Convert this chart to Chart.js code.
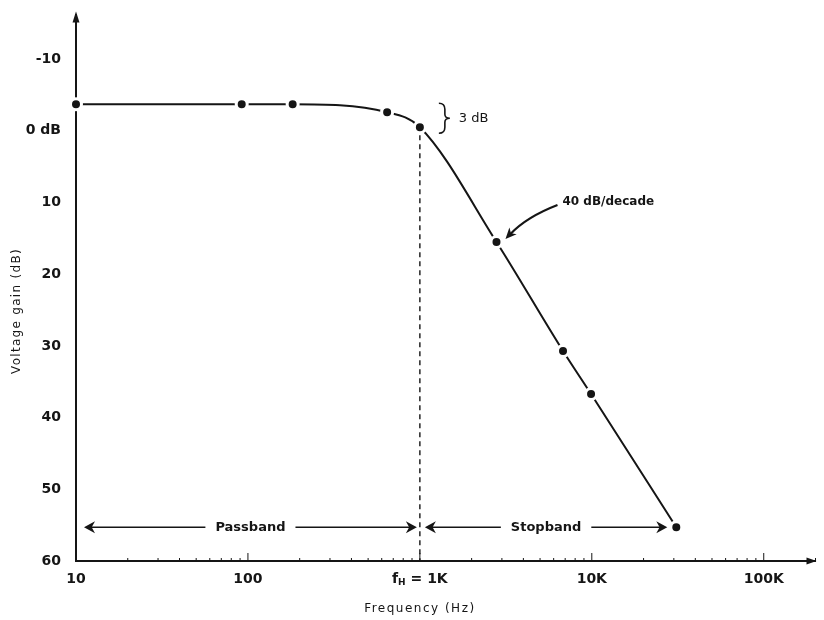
<!DOCTYPE html>
<html>
<head>
<meta charset="utf-8">
<script src="https://cdn.jsdelivr.net/npm/chart.js@4.4.0/dist/chart.umd.min.js"></script>
<style>
  html, body { margin: 0; padding: 0; background: #fff; }
  #wrap { position: relative; width: 824px; height: 620px; }
</style>
</head>
<body>
<div id="wrap"><canvas id="chartBode"></canvas></div>
<script>
// Datos (respuesta de un filtro pasa-bajos)
const freqHz = [10, 92, 182, 645, 1000, 2790, 6800, 9900, 31000];
const gainDb = [-3.7, -3.7, -3.7, -2.6, -0.5, 15.5, 30.7, 36.7, 55.3];

const freqTicks = [10, 100, 1000, 10000, 100000];
const freqTickLabels = ['10', '100', '', '10K', '100K'];
const gainTicks = [-10, 0, 10, 20, 30, 40, 50, 60];
const gainTickLabels = ['-10', '0 dB', '10', '20', '30', '40', '50', '60'];

const cutoffHz = 1000;
const bandArrowDb = 55.3;

const INK = '#151515';

function arrowHead(ctx, x, y, dir, size) {
  // dir: 1 = derecha, -1 = izquierda
  ctx.beginPath();
  ctx.moveTo(x, y);
  ctx.lineTo(x - dir * size, y - size * 0.55);
  ctx.lineTo(x - dir * size * 0.7, y);
  ctx.lineTo(x - dir * size, y + size * 0.55);
  ctx.closePath();
  ctx.fill();
}

function bandArrow(ctx, x1, x2, y, label) {
  ctx.font = 'bold 13px "DejaVu Sans"';
  const w = ctx.measureText(label).width;
  const mid = (x1 + x2) / 2;
  ctx.lineWidth = 1.6;
  ctx.beginPath();
  ctx.moveTo(x1 + 4, y);
  ctx.lineTo(mid - w / 2 - 10, y);
  ctx.moveTo(mid + w / 2 + 10, y);
  ctx.lineTo(x2 - 4, y);
  ctx.stroke();
  arrowHead(ctx, x1, y, -1, 11);
  arrowHead(ctx, x2, y, 1, 11);
  ctx.textAlign = 'center';
  ctx.textBaseline = 'middle';
  ctx.fillText(label, mid, y);
}

const bodeDecor = {
  id: 'bodeDecor',
  beforeDatasetsDraw(chart) {
    const ctx = chart.ctx;
    const xs = chart.scales.x;
    const ys = chart.scales.y;
    const area = chart.chartArea;
    const cIdx = freqHz.indexOf(cutoffHz);
    const xc = xs.getPixelForValue(cutoffHz);
    const yc = ys.getPixelForValue(gainDb[cIdx]);

    ctx.save();
    ctx.strokeStyle = INK;
    ctx.fillStyle = INK;

    // linea punteada en la frecuencia de corte
    ctx.lineWidth = 1.4;
    ctx.setLineDash([5, 4]);
    ctx.beginPath();
    ctx.moveTo(xc, yc + 8);
    ctx.lineTo(xc, area.bottom);
    ctx.stroke();
    ctx.setLineDash([]);

    // marcas menores del eje x (logaritmico)
    ctx.lineWidth = 1;
    for (let d = 10; d <= 100000; d *= 10) {
      for (let k = 1; k <= 9; k++) {
        const v = d * k;
        if (v > xs.max || v <= xs.min) continue;
        const px = xs.getPixelForValue(v);
        const len = k === 1 ? 8 : 3;
        ctx.beginPath();
        ctx.moveTo(px, area.bottom);
        ctx.lineTo(px, area.bottom - len);
        ctx.stroke();
      }
    }

    // flechas de banda de paso / banda de rechazo
    const yb = ys.getPixelForValue(bandArrowDb);
    const xLast = xs.getPixelForValue(freqHz[freqHz.length - 1]);
    bandArrow(ctx, xs.getPixelForValue(10) + 8, xc - 3, yb, 'Passband');
    bandArrow(ctx, xc + 5, xLast - 9, yb, 'Stopband');

    // llave de 3 dB
    const bx = xc + 19;
    const yTop = ys.getPixelForValue(gainDb[0]) - 1;
    const yBot = yc + 6;
    const ym = (yTop + yBot) / 2;
    ctx.lineWidth = 1.6;
    ctx.beginPath();
    ctx.moveTo(bx, yTop);
    ctx.quadraticCurveTo(bx + 6, yTop, bx + 6, yTop + 6);
    ctx.lineTo(bx + 6, ym - 4);
    ctx.quadraticCurveTo(bx + 6, ym, bx + 11, ym);
    ctx.quadraticCurveTo(bx + 6, ym, bx + 6, ym + 4);
    ctx.lineTo(bx + 6, yBot - 6);
    ctx.quadraticCurveTo(bx + 6, yBot, bx, yBot);
    ctx.stroke();
    ctx.font = '13px "DejaVu Sans"';
    ctx.textAlign = 'left';
    ctx.textBaseline = 'middle';
    ctx.fillText('3 dB', bx + 20, ym);

    // pendiente 40 dB/decada
    const i40 = 5;
    const px40 = xs.getPixelForValue(freqHz[i40]);
    const py40 = ys.getPixelForValue(gainDb[i40]);
    ctx.lineWidth = 2.2;
    ctx.beginPath();
    ctx.moveTo(px40 + 61, py40 - 37);
    ctx.quadraticCurveTo(px40 + 30, py40 - 25, px40 + 14, py40 - 8);
    ctx.stroke();
    ctx.save();
    ctx.translate(px40 + 9, py40 - 3);
    ctx.rotate(Math.atan2(17, -16));
    ctx.beginPath();
    ctx.moveTo(0, 0);
    ctx.lineTo(-11, -5);
    ctx.lineTo(-8, 0);
    ctx.lineTo(-11, 5);
    ctx.closePath();
    ctx.fill();
    ctx.restore();
    ctx.font = 'bold 12px "DejaVu Sans"';
    ctx.textAlign = 'left';
    ctx.textBaseline = 'middle';
    ctx.fillText('40 dB/decade', px40 + 66, py40 - 40);

    // etiqueta fH = 1K
    const yl = area.bottom + 18;
    ctx.font = 'bold 14px "DejaVu Sans"';
    const p1 = 'f', p3 = ' = 1K';
    const w1 = ctx.measureText(p1).width;
    const w3 = ctx.measureText(p3).width;
    ctx.font = 'bold 9px "DejaVu Sans"';
    const w2 = ctx.measureText('H').width;
    const x0 = xc - (w1 + w2 + w3) / 2;
    ctx.textAlign = 'left';
    ctx.textBaseline = 'middle';
    ctx.font = 'bold 14px "DejaVu Sans"';
    ctx.fillText(p1, x0, yl);
    ctx.font = 'bold 9px "DejaVu Sans"';
    ctx.fillText('H', x0 + w1, yl + 4);
    ctx.font = 'bold 14px "DejaVu Sans"';
    ctx.fillText(p3, x0 + w1 + w2, yl);

    // titulos de los ejes
    ctx.font = '12px "DejaVu Sans"';
    ctx.letterSpacing = '1.5px';
    ctx.textAlign = 'center';
    ctx.fillText('Frequency (Hz)', xc, 609);
    ctx.save();
    ctx.translate(17, 311);
    ctx.rotate(-Math.PI / 2);
    ctx.letterSpacing = '1.3px';
    ctx.fillText('Voltage gain (dB)', 0, 0);
    ctx.restore();
    ctx.letterSpacing = '0px';

    ctx.restore();
  },
  afterDraw(chart) {
    const ctx = chart.ctx;
    const area = chart.chartArea;
    ctx.save();
    ctx.fillStyle = INK;
    // punta de flecha del eje y
    ctx.beginPath();
    ctx.moveTo(area.left, area.top - 4);
    ctx.lineTo(area.left - 3.5, area.top + 7);
    ctx.lineTo(area.left + 3.5, area.top + 7);
    ctx.closePath();
    ctx.fill();
    // punta de flecha del eje x
    ctx.beginPath();
    ctx.moveTo(area.right + 1, area.bottom);
    ctx.lineTo(area.right - 9, area.bottom - 3.5);
    ctx.lineTo(area.right - 9, area.bottom + 3.5);
    ctx.closePath();
    ctx.fill();
    ctx.restore();
  }
};

const canvas = document.getElementById('chartBode');
new Chart(canvas.getContext('2d'), {
  type: 'line',
  data: {
    datasets: [{
      label: 'Voltage gain',
      data: freqHz.map((f, i) => ({ x: f, y: gainDb[i] })),
      borderColor: INK,
      borderWidth: 2,
      cubicInterpolationMode: 'monotone',
      pointRadius: 5.5,
      pointBackgroundColor: INK,
      pointBorderColor: '#fff',
      pointBorderWidth: 3,
      clip: false
    }]
  },
  options: {
    responsive: true,
    maintainAspectRatio: false,
    animation: false,
    devicePixelRatio: 1,
    layout: { padding: { top: 0, right: 2, left: 0, bottom: 0 } },
    plugins: {
      legend: { display: false },
      title: { display: false },
      tooltip: { enabled: false }
    },
    scales: {
      x: {
        type: 'logarithmic',
        min: 10,
        max: 200000,
        afterBuildTicks: s => { s.ticks = freqTicks.map(v => ({ value: v })); },
        afterFit: s => { s.height = 59; },
        grid: { display: false },
        border: { display: true, color: INK, width: 2 },
        ticks: {
          autoSkip: false,
          maxRotation: 0,
          padding: 2,
          color: INK,
          font: { family: 'DejaVu Sans', size: 14, weight: 'bold' },
          callback: (value, index) => freqTickLabels[index]
        }
      },
      y: {
        type: 'linear',
        reverse: true,
        min: -16.1,
        max: 60,
        afterBuildTicks: s => { s.ticks = gainTicks.map(v => ({ value: v })); },
        afterFit: s => { s.width = 76; },
        grid: { display: false },
        border: { display: true, color: INK, width: 2 },
        ticks: {
          padding: 7,
          color: INK,
          font: { family: 'DejaVu Sans', size: 14, weight: 'bold' },
          callback: (value, index) => gainTickLabels[index]
        }
      }
    }
  },
  plugins: [bodeDecor]
});
</script>
</body>
</html>
